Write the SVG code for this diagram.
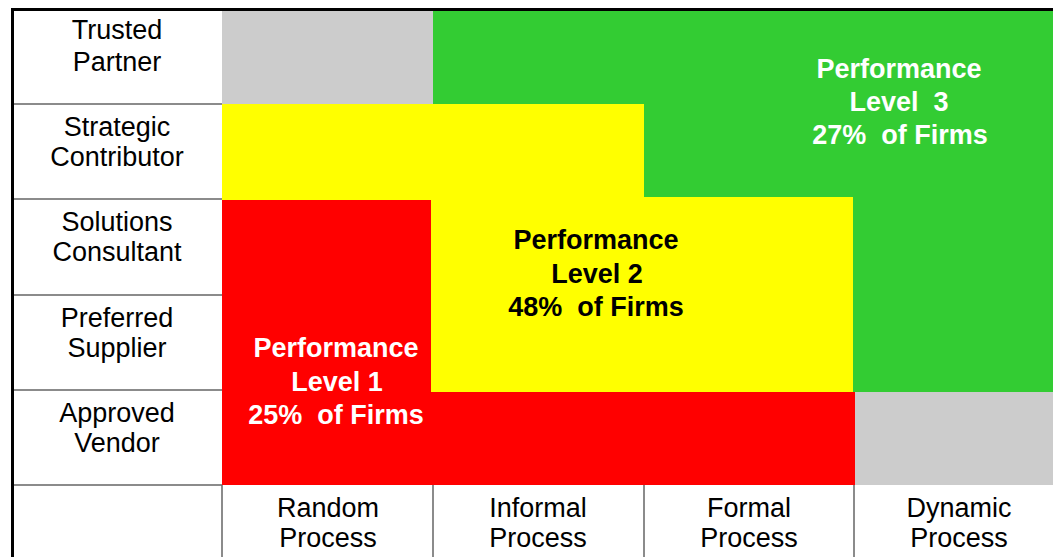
<svg xmlns="http://www.w3.org/2000/svg" width="1053" height="557" viewBox="0 0 1053 557">
<style>
.lbl{font-family:"Liberation Sans",Arial,sans-serif;font-size:27px;fill:#000;text-anchor:middle}
.perf{font-family:"Liberation Sans",Arial,sans-serif;font-size:27px;font-weight:bold;text-anchor:middle;white-space:pre}
.w{fill:#fff}
.k{fill:#000}
.grid{stroke:#666;stroke-width:1.5;fill:none}
.border{stroke:#000;stroke-width:3;fill:none}
</style>
<rect width="1053" height="557" fill="#fff"/>
<g id="gray-top"><rect x="222" y="11" width="211" height="93" fill="#cccccc"/></g>
<g id="gray-bottom"><rect x="855" y="392" width="198" height="93" fill="#cccccc"/></g>
<g id="level3">
<polygon points="433,11 1053,11 1053,392 853,392 853,197 644,197 644,104 433,104" fill="#33cc33"/>
<text class="perf w" x="899" y="78">Performance</text>
<text class="perf w" x="899" y="111">Level  3</text>
<text class="perf w" x="900" y="144">27%  of Firms</text>
</g>
<g id="level2">
<polygon points="222,104 644,104 644,197 853,197 853,392 431,392 431,200 222,200" fill="#ffff00"/>
<text class="perf k" x="596" y="249">Performance</text>
<text class="perf k" x="597" y="283">Level 2</text>
<text class="perf k" x="596" y="316">48%  of Firms</text>
</g>
<g id="level1">
<polygon points="222,200 431,200 431,392 855,392 855,485 222,485" fill="#ff0000"/>
<text class="perf w" x="336" y="357">Performance</text>
<text class="perf w" x="337" y="391">Level 1</text>
<text class="perf w" x="336" y="424">25%  of Firms</text>
</g>
<g id="grid-lines">
<path class="grid" d="M12,104H222M12,199H222M12,295H222M12,390H222M12,485H222M222,485V557M433,485V557M644,485V557M854,485V557"/>
<path class="border" d="M12.5,557V9.5H1053"/>
</g>
<g id="row-trusted"><text class="lbl" x="117" y="39">Trusted</text><text class="lbl" x="117" y="71">Partner</text></g>
<g id="row-strategic"><text class="lbl" x="117" y="136">Strategic</text><text class="lbl" x="117" y="166">Contributor</text></g>
<g id="row-solutions"><text class="lbl" x="117" y="231">Solutions</text><text class="lbl" x="117" y="261">Consultant</text></g>
<g id="row-preferred"><text class="lbl" x="117" y="327">Preferred</text><text class="lbl" x="117" y="357">Supplier</text></g>
<g id="row-approved"><text class="lbl" x="117" y="422">Approved</text><text class="lbl" x="117" y="452">Vendor</text></g>
<g id="col-random"><text class="lbl" x="328" y="517">Random</text><text class="lbl" x="328" y="547">Process</text></g>
<g id="col-informal"><text class="lbl" x="538" y="517">Informal</text><text class="lbl" x="538" y="547">Process</text></g>
<g id="col-formal"><text class="lbl" x="749" y="517">Formal</text><text class="lbl" x="749" y="547">Process</text></g>
<g id="col-dynamic"><text class="lbl" x="959" y="517">Dynamic</text><text class="lbl" x="959" y="547">Process</text></g>
</svg>
